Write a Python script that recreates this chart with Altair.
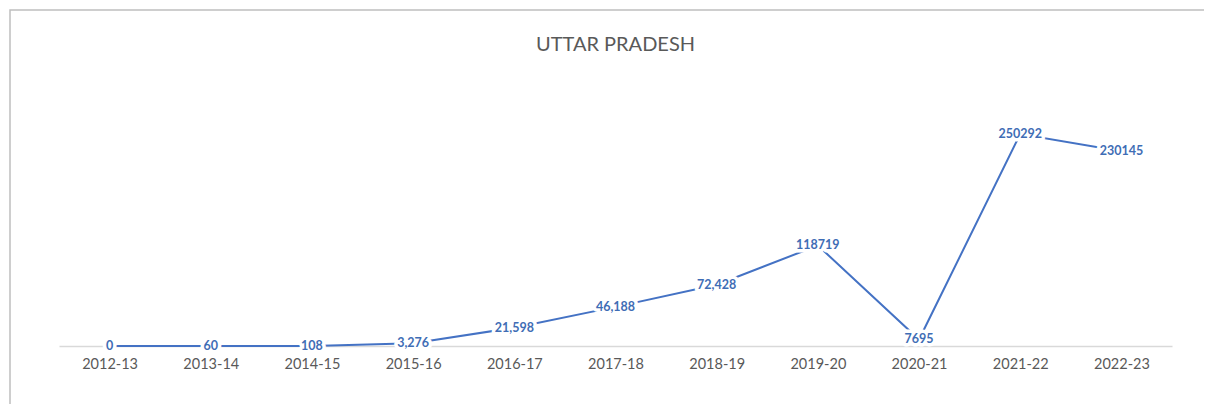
import altair as alt
import pandas as pd

years = ["2012-13", "2013-14", "2014-15", "2015-16", "2016-17", "2017-18",
         "2018-19", "2019-20", "2020-21", "2021-22", "2022-23"]
values = [0, 60, 108, 3276, 21598, 46188, 72428, 118719, 7695, 250292, 230145]
labels = ["0", "60", "108", "3,276", "21,598", "46,188", "72,428", "118719",
          "7695", "250292", "230145"]

df = pd.DataFrame({"year": years, "value": values, "label": labels})

LINE = "#4472C4"
FONT = "Lato"

x = alt.X("year:N", sort=years,
          scale=alt.Scale(paddingInner=0, paddingOuter=0),
          axis=alt.Axis(title=None, labelAngle=0, ticks=False, grid=False,
                        domainColor="#d9d9d9", domainWidth=1.5,
                        labelColor="#595959", labelFont=FONT, labelFontSize=14.5,
                        labelPadding=11))
y = alt.Y("value:Q", scale=alt.Scale(domain=[0, 300000], nice=False),
          axis=None)

base = alt.Chart(df)

border = alt.Chart(pd.DataFrame({"a": [0]})).mark_rect(
    fill="transparent", stroke="#bfbfbf", strokeWidth=1.5, clip=False
).encode(x=alt.value(-49), x2=alt.value(1170), y=alt.value(-82), y2=alt.value(400))

line = base.mark_line(color=LINE, strokeWidth=2).encode(x=x, y=y)

halo = base.mark_text(font=FONT, fontSize=12.5, fontWeight="bold",
                      stroke="white", strokeWidth=7, color="white",
                      strokeJoin="round").encode(x=x, y=y, text="label:N")

text = base.mark_text(font=FONT, fontSize=12.5, fontWeight="bold",
                      color="#3f6db5").encode(x=x, y=y, text="label:N")

chart = alt.layer(border, line, halo, text).properties(
    width=1113, height=254,
    title=alt.Title("UTTAR PRADESH", font=FONT, fontSize=20, fontWeight="normal",
                    color="#595959", anchor="middle", offset=-46, frame="group"),
    padding={"left": 51, "top": 84, "right": 32, "bottom": 58},
    autosize=alt.AutoSizeParams(type="none"),
).configure(background="white").configure_view(strokeWidth=0, stroke="transparent")

chart.save("out.html", embed_options={"renderer": "svg", "actions": False})
